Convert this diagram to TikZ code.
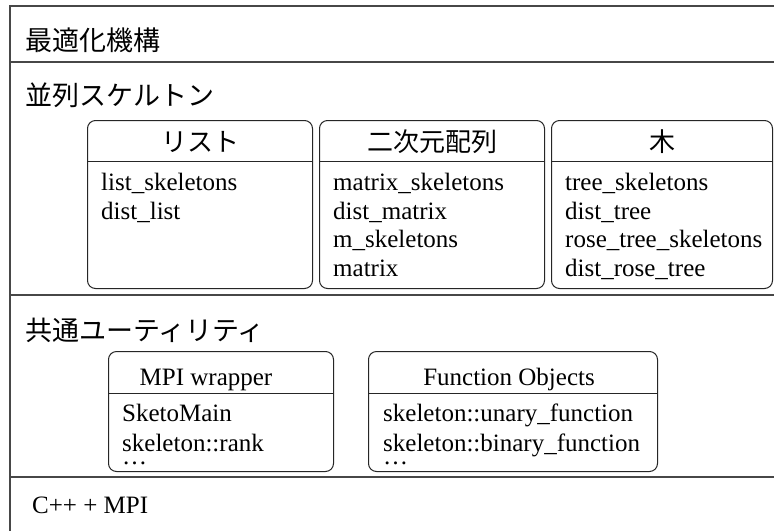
\documentclass[tikz,border=0pt]{standalone}
\usepackage{fontspec}
\setmainfont{Liberation Serif}
\newfontfamily\jp{Noto Sans CJK JP}
\begin{document}
\begin{tikzpicture}[x=1pt,y=-1pt,
  frameline/.style={draw=black!72, line width=1.5pt},
  ubox/.style={draw=black!85, line width=1pt, rounded corners=8pt, inner sep=0pt, anchor=north west},
  sect/.style={font=\jp\fontsize{27}{30}\selectfont, inner sep=0pt, anchor=west},
  jhead/.style={font=\jp\fontsize{26}{30}\selectfont, inner sep=0pt},
  lhead/.style={font=\fontsize{25}{28}\selectfont, inner sep=0pt, anchor=base},
  body/.style={font=\fontsize{25}{28.7}\selectfont, inner sep=0pt, align=left, anchor=north west},
  single/.style={font=\fontsize{25}{28.7}\selectfont, inner sep=0pt, anchor=base west}]
\useasboundingbox (0,0) rectangle (774,531);
\fill[white] (0,0) rectangle (774,531);
% outer frame and separators
\draw[frameline] (774,6) -- (10,6) -- (10,531);
\draw[frameline] (10,62) -- (774,62);
\draw[frameline] (10,295) -- (774,295);
\draw[frameline] (10,477) -- (774,477);
% section titles
\node[sect] (t1) at (25,40) {最適化機構};
\node[sect] (t2) at (25,95) {並列スケルトン};
\node[sect] (t3) at (25,330) {共通ユーティリティ};
\node[single] (t4) at (32,513) {C++ + MPI};
% skeleton boxes
\node[ubox, minimum width=225pt, minimum height=168pt] (list) at (87,120) {};
\node[ubox, minimum width=225pt, minimum height=168pt] (mat) at (319,120) {};
\node[ubox, minimum width=221pt, minimum height=168pt] (tree) at (551,120) {};
\foreach \b in {list,mat,tree}
  \draw[draw=black!85, line width=1pt] ([yshift=-41pt]\b.north west) -- ([yshift=-41pt]\b.north east);
\node[jhead] (hl) at ([yshift=-22pt]list.north) {リスト};
\node[jhead] (hm) at ([yshift=-22pt]mat.north) {二次元配列};
\node[jhead] (ht) at ([yshift=-22pt]tree.north) {木};
\node[body] (bl) at (101,173) {list\_skeletons\\dist\_list};
\node[body] (bm) at (333,173) {matrix\_skeletons\\dist\_matrix\\m\_skeletons\\matrix};
\node[body] (bt) at (565,173) {tree\_skeletons\\dist\_tree\\rose\_tree\_skeletons\\dist\_rose\_tree};
% utility boxes
\node[ubox, minimum width=225pt, minimum height=120pt] (mpi) at (108,351) {};
\node[ubox, minimum width=289pt, minimum height=120pt] (fo) at (368,351) {};
\foreach \b in {mpi,fo}
  \draw[draw=black!85, line width=1pt] ([yshift=-42pt]\b.north west) -- ([yshift=-42pt]\b.north east);
\node[lhead] (hmpi) at (206,385) {MPI wrapper};
\node[lhead] (hfo) at (509,385) {Function Objects};
\node[body] (bmpi) at (122,404) {SketoMain\\[1.3pt]skeleton::rank\\[-16pt]\ldots};
\node[body] (bfo) at (383,404) {skeleton::unary\_function\\[1.3pt]skeleton::binary\_function\\[-16pt]\ldots};
\end{tikzpicture}
\end{document}
